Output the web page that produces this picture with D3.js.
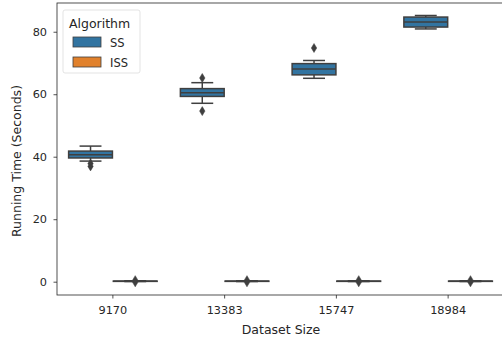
<!DOCTYPE html>
<html>
<head>
<meta charset="utf-8">
<script src="https://cdnjs.cloudflare.com/ajax/libs/d3/7.8.5/d3.min.js"></script>
<style>
  body { margin: 0; background: #fff; }
  svg { display: block; font-family: "DejaVu Sans", sans-serif; }
</style>
</head>
<body>
<div id="chart"></div>
<script>
// categories and hue levels
var sizes = ["9170", "13383", "15747", "18984"];
var algorithms = ["SS", "ISS"];
var colors = ["#3274a1", "#e1812c"];

// box stats per dataset size: [whiskerLow, q1, median, q3, whiskerHigh]
var ssStats = [
  [38.6, 39.6, 40.6, 41.8, 43.4],
  [57.1, 59.3, 60.5, 61.8, 63.7],
  [65.1, 66.2, 68.1, 69.8, 70.8],
  [80.9, 81.5, 83.1, 84.7, 85.2]
];
var ssOutliers = [[37.8, 36.9], [65.2, 54.6], [74.8], []];
var issStats = [
  [0.05, 0.1, 0.15, 0.2, 0.3],
  [0.05, 0.1, 0.15, 0.2, 0.3],
  [0.05, 0.1, 0.15, 0.2, 0.3],
  [0.05, 0.1, 0.15, 0.2, 0.3]
];
var issOutliers = [[0.5, -0.2], [0.5, -0.2], [0.5, -0.2], [0.5, -0.2]];
var yTicks = [0, 20, 40, 60, 80];

var W = 502, H = 339;
var pLeft = 57, pRight = 504, pTop = 3, pBottom = 295;
var lineCol = "#3f3f3f", textCol = "#262626";

var svg = d3.select("#chart").append("svg")
  .attr("width", W).attr("height", H);

var x = d3.scaleBand().domain(sizes).range([pLeft, pRight]).padding(0);
var hue = d3.scaleBand().domain(algorithms).range([-0.4, 0.4]);
var y = d3.scaleLinear().domain([-4.26, 89.2]).range([pBottom, pTop]);

var bw = x.bandwidth();
var boxW = hue.bandwidth() * bw * 0.98;

function drawBoxes(stats, outliers, k) {
  stats.forEach(function(s, i) {
    var cx = x(sizes[i]) + bw / 2 + (hue(algorithms[k]) + hue.bandwidth() / 2) * bw;
    var g = svg.append("g");
    // whiskers
    g.append("line").attr("x1", cx).attr("x2", cx)
      .attr("y1", y(s[0])).attr("y2", y(s[1]))
      .attr("stroke", lineCol).attr("stroke-width", 1.5);
    g.append("line").attr("x1", cx).attr("x2", cx)
      .attr("y1", y(s[3])).attr("y2", y(s[4]))
      .attr("stroke", lineCol).attr("stroke-width", 1.5);
    // caps
    [s[0], s[4]].forEach(function(v) {
      g.append("line").attr("x1", cx - boxW / 4).attr("x2", cx + boxW / 4)
        .attr("y1", y(v)).attr("y2", y(v))
        .attr("stroke", lineCol).attr("stroke-width", 1.5);
    });
    // box
    g.append("rect")
      .attr("x", cx - boxW / 2).attr("width", boxW)
      .attr("y", y(s[3])).attr("height", Math.max(0, y(s[1]) - y(s[3])))
      .attr("fill", colors[k]).attr("stroke", lineCol).attr("stroke-width", 1.5);
    // median
    g.append("line").attr("x1", cx - boxW / 2).attr("x2", cx + boxW / 2)
      .attr("y1", y(s[2])).attr("y2", y(s[2]))
      .attr("stroke", lineCol).attr("stroke-width", 1.5);
    // outliers (thin diamonds)
    outliers[i].forEach(function(v) {
      var py = y(v);
      g.append("path")
        .attr("d", "M" + cx + "," + (py - 4.5) + "L" + (cx + 2.7) + "," + py +
          "L" + cx + "," + (py + 4.5) + "L" + (cx - 2.7) + "," + py + "Z")
        .attr("fill", lineCol).attr("stroke", lineCol).attr("stroke-width", 0.5);
    });
  });
}

drawBoxes(ssStats, ssOutliers, 0);
drawBoxes(issStats, issOutliers, 1);

// axes
var xAxis = svg.append("g").attr("transform", "translate(0," + pBottom + ")")
  .call(d3.axisBottom(x).tickSize(3.5).tickPadding(7.5));
var yAxis = svg.append("g").attr("transform", "translate(" + pLeft + ",0)")
  .call(d3.axisLeft(y).tickValues(yTicks).tickSize(3.5).tickPadding(6.5));
[xAxis, yAxis].forEach(function(a) {
  a.select(".domain").remove();
  a.selectAll("line").attr("stroke", textCol).attr("stroke-width", 0.8);
  a.selectAll("text").attr("fill", textCol).style("font-size", "11.3px")
    .style("font-family", "DejaVu Sans, sans-serif");
});

// spines
svg.append("rect")
  .attr("x", pLeft).attr("y", pTop)
  .attr("width", pRight - pLeft).attr("height", pBottom - pTop)
  .attr("fill", "none").attr("stroke", textCol).attr("stroke-width", 0.8);

// axis labels
svg.append("text")
  .attr("x", 281).attr("y", 334)
  .attr("text-anchor", "middle").attr("fill", textCol)
  .style("font-size", "12.5px").text("Dataset Size");
svg.append("text")
  .attr("transform", "translate(21," + ((pTop + pBottom) / 2 + 12) + ") rotate(-90)")
  .attr("text-anchor", "middle").attr("fill", textCol)
  .style("font-size", "12.5px").text("Running Time (Seconds)");

// legend
var lg = svg.append("g").attr("transform", "translate(63,10)");
lg.append("rect").attr("width", 77).attr("height", 63).attr("rx", 2)
  .attr("fill", "#fff").attr("fill-opacity", 0.8)
  .attr("stroke", "#dcdcdc").attr("stroke-width", 0.8);
lg.append("text").attr("x", 6).attr("y", 17.5).attr("fill", textCol)
  .style("font-size", "12.5px").text("Algorithm");
algorithms.forEach(function(a, i) {
  lg.append("rect").attr("x", 10).attr("y", 27 + i * 20)
    .attr("width", 28).attr("height", 10)
    .attr("fill", colors[i]).attr("stroke", lineCol).attr("stroke-width", 0.8);
  lg.append("text").attr("x", 47).attr("y", 36.5 + i * 20).attr("fill", textCol)
    .style("font-size", "11.5px").text(a);
});
</script>
</body>
</html>
